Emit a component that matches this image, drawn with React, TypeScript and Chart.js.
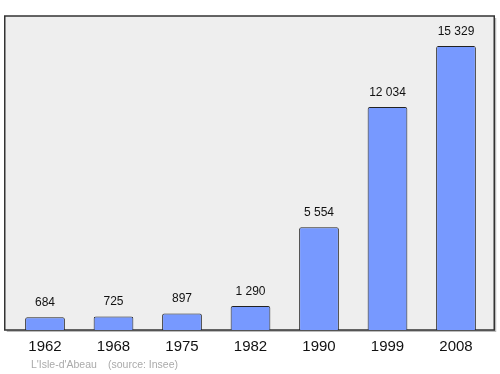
import React, { useEffect, useRef } from "react";
import { Chart, registerables } from "chart.js";

Chart.register(...registerables);

const years = ["1962", "1968", "1975", "1982", "1990", "1999", "2008"];
const population = [684, 725, 897, 1290, 5554, 12034, 15329];
const placeName = "L'Isle-d'Abeau";
const sourceText = "(source: Insee)";

const FONT = "'Liberation Sans', Arial, Helvetica, sans-serif";

function fmt(n: number): string {
  return String(n).replace(/\B(?=(\d{3})+(?!\d))/g, " ");
}

const framePlugin = {
  id: "frame",
  beforeDraw(chart: any) {
    const { ctx, chartArea } = chart;
    const l = chartArea.left - 6;
    const r = chartArea.right + 4;
    const t = chartArea.top - 1;
    const b = chartArea.bottom;
    ctx.save();
    ctx.fillStyle = "#bbbbbb";
    ctx.fillRect(l + 2, t + 2, r - l, b - t);
    ctx.fillStyle = "#eeeeee";
    ctx.fillRect(l, t, r - l, b - t);
    ctx.strokeStyle = "#333333";
    ctx.lineWidth = 1.5;
    ctx.strokeRect(l, t, r - l, b - t);
    ctx.restore();
  },
  afterDatasetsDraw(chart: any) {
    const { ctx } = chart;
    const meta = chart.getDatasetMeta(0);
    ctx.save();
    ctx.font = `12px ${FONT}`;
    ctx.fillStyle = "#111111";
    ctx.textAlign = "center";
    ctx.textBaseline = "bottom";
    meta.data.forEach((bar: any, i: number) => {
      ctx.fillText(fmt(population[i]), bar.x, bar.y - 8.5);
    });
    ctx.restore();
  },
  afterDraw(chart: any) {
    const { ctx } = chart;
    ctx.save();
    ctx.font = `10.5px ${FONT}`;
    ctx.fillStyle = "#aaaaaa";
    ctx.textAlign = "left";
    ctx.textBaseline = "middle";
    ctx.fillText(placeName, 31, 365);
    ctx.fillText(sourceText, 108, 365);
    ctx.restore();
  },
};

export default function App() {
  const ref = useRef<HTMLCanvasElement | null>(null);
  useEffect(() => {
    document.body.style.margin = "0";
    const canvas = ref.current!;
    const chart = new Chart(canvas, {
      type: "bar",
      data: {
        labels: years,
        datasets: [
          {
            data: population,
            backgroundColor: "#7799ff",
            borderColor: "#222222",
            borderWidth: 1,
            borderRadius: 2,
            borderSkipped: "bottom",
            categoryPercentage: 1,
            barPercentage: 0.58,
          },
        ],
      },
      options: {
        responsive: false,
        animation: false,
        layout: { padding: { left: 10.75, right: 9.75, top: 17, bottom: 10 } },
        plugins: { legend: { display: false }, tooltip: { enabled: false } },
        scales: {
          x: {
            grid: { display: false, drawTicks: false },
            border: { display: false },
            ticks: {
              color: "#111111",
              padding: 8,
              font: { family: FONT, size: 15 },
              maxRotation: 0,
            },
          },
          y: { display: false, min: 0, max: 16900 },
        },
      },
      plugins: [framePlugin],
    });
    return () => chart.destroy();
  }, []);
  return (
    <div style={{ position: "absolute", left: 0, top: 0, width: 500, height: 374 }}>
      <canvas ref={ref} width={500} height={374} />
    </div>
  );
}
